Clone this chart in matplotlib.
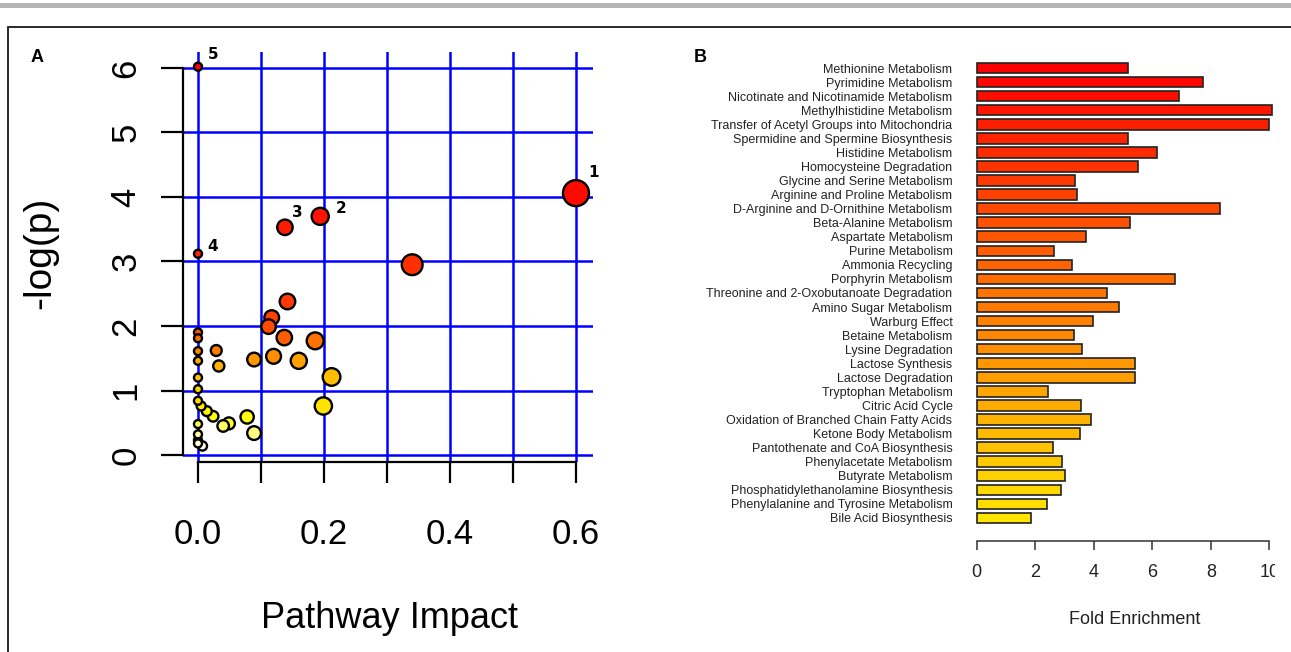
import colorsys
import numpy as np
import matplotlib
matplotlib.use("Agg")
import matplotlib.pyplot as plt
from matplotlib.patches import Rectangle
from matplotlib.transforms import Bbox

plt.rcParams['font.family'] = ['Liberation Sans', 'DejaVu Sans']

# Panel A: pathway impact vs -log(p)
impact = [0.600, 0.194, 0.138, 0.000, 0.000, 0.340, 0.142, 0.117, 0.112, 0.137,
          0.186, 0.089, 0.120, 0.160, 0.212, 0.199, 0.078, 0.089, 0.000, 0.000,
          0.029, 0.000, 0.000, 0.033, 0.000, 0.000, 0.000, 0.005, 0.014, 0.024,
          0.040, 0.049, 0.000, 0.000, 0.000, 0.000, 0.007]
neglogp = [4.06, 3.70, 3.53, 3.12, 6.02, 2.95, 2.38, 2.13, 1.99, 1.82,
           1.77, 1.48, 1.53, 1.46, 1.21, 0.76, 0.59, 0.34, 1.90, 1.81,
           1.62, 1.61, 1.46, 1.38, 1.20, 1.02, 0.84, 0.76, 0.68, 0.60,
           0.45, 0.49, 0.48, 0.32, 0.23, 0.18, 0.14]
point_ids = {0: '1', 1: '2', 2: '3', 3: '4', 4: '5'}

# Panel B: enrichment overview
pathways = ['Methionine Metabolism', 'Pyrimidine Metabolism',
            'Nicotinate and Nicotinamide Metabolism', 'Methylhistidine Metabolism',
            'Transfer of Acetyl Groups into Mitochondria',
            'Spermidine and Spermine Biosynthesis', 'Histidine Metabolism',
            'Homocysteine Degradation', 'Glycine and Serine Metabolism',
            'Arginine and Proline Metabolism', 'D-Arginine and D-Ornithine Metabolism',
            'Beta-Alanine Metabolism', 'Aspartate Metabolism', 'Purine Metabolism',
            'Ammonia Recycling', 'Porphyrin Metabolism',
            'Threonine and 2-Oxobutanoate Degradation', 'Amino Sugar Metabolism',
            'Warburg Effect', 'Betaine Metabolism', 'Lysine Degradation',
            'Lactose Synthesis', 'Lactose Degradation', 'Tryptophan Metabolism',
            'Citric Acid Cycle', 'Oxidation of Branched Chain Fatty Acids',
            'Ketone Body Metabolism', 'Pantothenate and CoA Biosynthesis',
            'Phenylacetate Metabolism', 'Butyrate Metabolism',
            'Phosphatidylethanolamine Biosynthesis',
            'Phenylalanine and Tyrosine Metabolism', 'Bile Acid Biosynthesis']
fold_enrichment = [5.17, 7.73, 6.90, 10.08, 9.98, 5.18, 6.15, 5.51, 3.36, 3.44,
                   8.33, 5.25, 3.74, 2.64, 3.25, 6.79, 4.47, 4.85, 3.97, 3.32,
                   3.60, 5.41, 5.42, 2.45, 3.55, 3.92, 3.54, 2.60, 2.90, 3.02,
                   2.87, 2.40, 1.87]
fold_ticks = [0, 2, 4, 6, 8, 10]


def heat_colors(n):
    # same scheme as R's heat.colors(): red -> yellow, then yellow -> pale
    j = n // 4
    i = n - j
    cols = [colorsys.hsv_to_rgb(h, 1, 1) for h in np.linspace(0, 1 / 6, i)]
    if j > 0:
        sats = np.linspace(1 - 1 / (2 * j), 1 / (2 * j), j)
        cols += [colorsys.hsv_to_rgb(1 / 6, s, 1) for s in sats]
    return cols


W, H = 1291, 652
fig = plt.figure(figsize=(W / 100, H / 100), dpi=100)

# page decoration: grey rule on top and the panel frame
fig.add_artist(Rectangle((0, 1 - 8 / H), 1, 5 / H, transform=fig.transFigure,
                         facecolor='#b5b5b5', edgecolor='none'))
fig.add_artist(Rectangle((8 / W, -0.1), 1.1, 1.1 - 27 / H, transform=fig.transFigure,
                         fill=False, edgecolor='#1a1a1a', lw=1.3))

# ---- panel A ----
axA = fig.add_axes([183 / W, 1 - 462 / H, 410 / W, 410 / H])
axA.set_xlim(-0.0238, 0.627)
axA.set_ylim(-0.1085, 6.248)
axA.grid(True, color='#0000ff', lw=1.8)
axA.set_axisbelow(True)

order = np.argsort(-np.array(neglogp), kind='stable')
palette = heat_colors(len(neglogp))
pt_colors = [None] * len(neglogp)
for rank, idx in enumerate(order):
    pt_colors[idx] = palette[rank]

imp = np.array(impact)
radius_px = 4 + 9 * (imp / imp.max()) ** 0.6
sizes = (2 * radius_px * 0.72) ** 2
# draw the small circles last so they sit on top
draw_order = np.argsort(-radius_px)
axA.scatter(imp[draw_order], np.array(neglogp)[draw_order], s=sizes[draw_order],
            c=[pt_colors[k] for k in draw_order], edgecolors='black',
            linewidths=1.7, zorder=3, clip_on=False)

label_offsets = {'1': (18, 21), '2': (21, 8), '3': (12, 15), '4': (15, 7), '5': (15, 12)}
for idx, name in point_ids.items():
    axA.annotate(name, (impact[idx], neglogp[idx]), xytext=label_offsets[name],
                 textcoords='offset pixels', ha='center', va='center',
                 fontsize=11, fontweight='bold', family='DejaVu Sans', zorder=4)

for side in ('top', 'right'):
    axA.spines[side].set_visible(False)
axA.spines['left'].set_bounds(0, 6)
axA.spines['bottom'].set_bounds(0, 0.6)
for side in ('left', 'bottom'):
    axA.spines[side].set_linewidth(1.6)

xt = np.round(np.arange(0, 0.61, 0.1), 1)
axA.set_xticks(xt)
axA.set_xticklabels([f'{v:.1f}' if round(v * 10) % 2 == 0 else '' for v in xt])
axA.set_yticks(range(7))
axA.set_yticklabels([str(v) for v in range(7)], rotation=90, va='center')
axA.tick_params(axis='x', length=15, width=1.6, labelsize=25, pad=25)
axA.tick_params(axis='y', length=16, width=1.6, labelsize=25, pad=13)

fig.text(40 / W, 1 - 253 / H, '-log(p)', rotation=90, ha='center', va='center', fontsize=28)
fig.text(389 / W, 1 - 618 / H, 'Pathway Impact', ha='center', va='center', fontsize=26)
fig.text(37 / W, 1 - 57 / H, 'A', ha='center', va='center', fontsize=13, fontweight='bold')

# ---- panel B ----
axB = fig.add_axes([976.7 / W, 1 - 541 / H, 292.6 / W, 480 / H])
n = len(pathways)
ypos = np.arange(n)[::-1]
bar_colors = [colorsys.hsv_to_rgb(h, 1, 1) for h in np.linspace(0, 0.15, n)]
axB.barh(ypos, fold_enrichment, height=0.75, color=bar_colors,
         edgecolor='#222222', linewidth=1.2, clip_on=False)
axB.set_xlim(0, 10)
axB.set_ylim(-1.64, 32.5)
axB.set_yticks(ypos)
axB.set_yticklabels(pathways, fontsize=9, color='#222222')
axB.tick_params(axis='y', length=0, pad=17.5)
axB.set_xticks(fold_ticks)
axB.set_xticklabels([str(v) for v in fold_ticks])
axB.tick_params(axis='x', length=6.5, width=1.1, color='#333333',
                labelsize=13, labelcolor='#222222', pad=10)
for side in ('top', 'right', 'left'):
    axB.spines[side].set_visible(False)
axB.spines['bottom'].set_bounds(0, 10)
axB.spines['bottom'].set_linewidth(1.1)
axB.spines['bottom'].set_color('#333333')

# the last tick label runs off the panel edge
clip = Bbox.from_extents(0, 0, 1275, H)
last_label = axB.get_xticklabels()[-1]
last_label.set_clip_box(clip)
last_label.set_clip_on(True)

fig.text(1135 / W, 1 - 620 / H, 'Fold Enrichment', ha='center', va='center',
         fontsize=13, color='#222222')
fig.text(700 / W, 1 - 57 / H, 'B', ha='center', va='center', fontsize=13, fontweight='bold')

fig.savefig('out.png', dpi=100)
